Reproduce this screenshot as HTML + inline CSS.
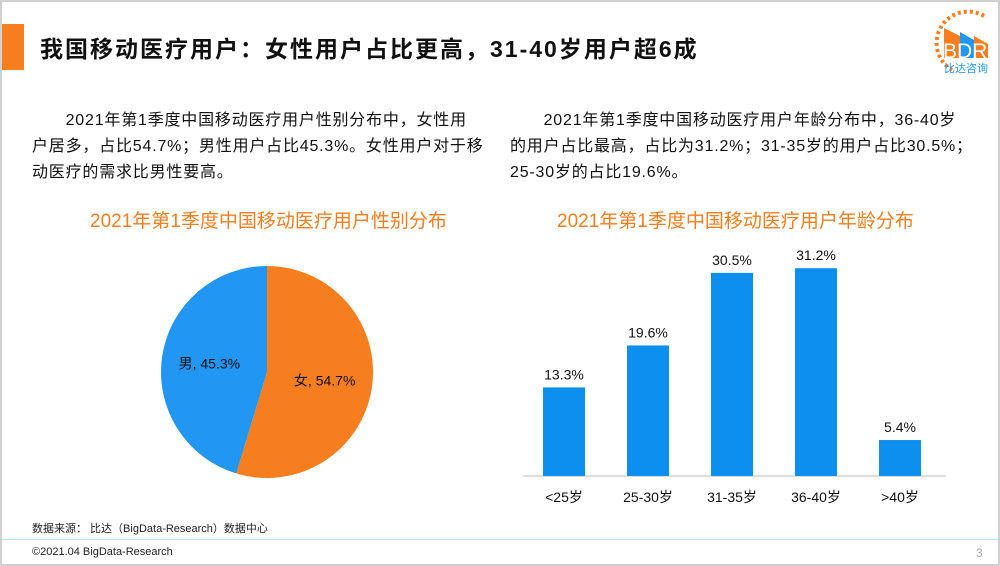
<!DOCTYPE html>
<html><head><meta charset="utf-8"><style>
body{margin:0;width:1000px;height:566px;overflow:hidden;background:#fff;font-family:"Liberation Sans","Noto Sans CJK SC",sans-serif;}
.frame{position:absolute;left:0;top:0;width:996px;height:562px;border:2px solid #d0d0d0;background:#fff;}
.abs{position:absolute;}
p.txt{margin:0;font-size:16px;line-height:26px;color:#111;white-space:nowrap;letter-spacing:0.8px;}
</style></head><body>
<div class="frame">
<div class="abs" style="left:0;top:22px;width:22px;height:46px;background:#f77e1e"></div>
<div class="abs" style="left:38px;top:28px;font-size:23px;font-weight:bold;color:#111;white-space:nowrap;letter-spacing:2px">我国移动医疗用户：女性用户占比更高，31-40岁用户超6成</div>
<svg class="abs" style="left:920px;top:6px" width="76" height="68">
<path d="M62,8 A30,30 0 1 0 30,62" fill="none" stroke="#f77e1e" stroke-width="4" stroke-dasharray="3 3"/>
<polygon points="22,20 38,28 38,50 22,50" fill="#f77e1e"/>
<polygon points="38,24 52,32 52,50 38,50" fill="#2196f3"/>
<polygon points="52,28 66,36 66,50 52,50" fill="#f77e1e"/>
<text x="21" y="50" font-size="21" fill="#fff" font-family="Liberation Sans">BDR</text>
<text x="22" y="64" font-size="11" fill="#2196f3">比达咨询</text>
</svg>
<div class="abs" style="left:30px;top:106px"><p class="txt">　　2021年第1季度中国移动医疗用户性别分布中，女性用<br>户居多，占比54.7%；男性用户占比45.3%。女性用户对于移<br>动医疗的需求比男性要高。</p></div>
<div class="abs" style="left:508px;top:106px"><p class="txt">　　2021年第1季度中国移动医疗用户年龄分布中，36-40岁<br>的用户占比最高，占比为31.2%；31-35岁的用户占比30.5%；<br>25-30岁的占比19.6%。</p></div>
<div class="abs" style="left:88px;top:204px;font-size:19px;color:#f77e1e">2021年第1季度中国移动医疗用户性别分布</div>
<div class="abs" style="left:555px;top:204px;font-size:19px;color:#f77e1e">2021年第1季度中国移动医疗用户年龄分布</div>
<svg class="abs" id="pie" style="left:0;top:0" width="500" height="520"></svg>
<svg class="abs" id="bar" style="left:0;top:0" width="1000" height="520"></svg>
<div class="abs" style="left:30px;top:518px;font-size:11px;color:#222">数据来源： 比达（BigData-Research）数据中心</div>
<div class="abs" style="left:0;top:537px;width:996px;height:1px;background:#bfe0f5"></div>
<div class="abs" style="left:30px;top:544px;font-size:11px;color:#222">©2021.04 BigData-Research</div>
<div class="abs" style="left:974px;top:544px;font-size:12px;color:#aaa">3</div>
</div>
<script>
const pieLabels=["女","男"];
const pieValues=[54.7,45.3];
const pieColors=["#f77e1e","#2196f3"];
const barCats=["<25岁","25-30岁","31-35岁","36-40岁",">40岁"];
const barValues=[13.3,19.6,30.5,31.2,5.4];
const NS="http://www.w3.org/2000/svg";
function mk(t,a,p){const e=document.createElementNS(NS,t);for(const k in a)e.setAttribute(k,a[k]);p.appendChild(e);return e;}
const pie=document.getElementById('pie');
const cx=265,cy=370,r=106;const tot=pieValues.reduce((a,b)=>a+b,0);let ang=0;
pieValues.forEach((v,i)=>{const a0=ang,a1=ang+v/tot*2*Math.PI;ang=a1;
const x0=cx+r*Math.sin(a0),y0=cy-r*Math.cos(a0),x1=cx+r*Math.sin(a1),y1=cy-r*Math.cos(a1);
const p=mk('path',{d:`M${cx},${cy}L${x0},${y0}A${r},${r} 0 ${a1-a0>Math.PI?1:0} 1 ${x1},${y1}Z`,fill:pieColors[i]},pie);


const m=(a0+a1)/2,lx=cx+r*0.55*Math.sin(m),ly=cy-r*0.55*Math.cos(m);
const t=mk('text',{x:lx,y:ly+5,'text-anchor':'middle','font-size':14,fill:'#111'},pie);t.textContent=pieLabels[i]+", "+v.toFixed(1)+"%";


});
const bar=document.getElementById('bar');
const base=474,scale=6.66,x0=521,step=84,bw=42;
const ax=mk('line',{x1:x0,x2:x0+step*barCats.length+3,y1:base,y2:base,stroke:'#bbb'},bar);


barCats.forEach((c,i)=>{const xc=x0+step*i+step/2-1,h=barValues[i]*scale;
const b=mk('rect',{x:xc-bw/2,y:base-h,width:bw,height:h,fill:'#0d8ff0'},bar);


const v=mk('text',{x:xc,y:base-h-8,'text-anchor':'middle','font-size':14,fill:'#111'},bar);v.textContent=barValues[i].toFixed(1)+"%";


const l=mk('text',{x:xc,y:base+26,'text-anchor':'middle','font-size':14,fill:'#111'},bar);l.textContent=c;


});
</script>
</body></html>
